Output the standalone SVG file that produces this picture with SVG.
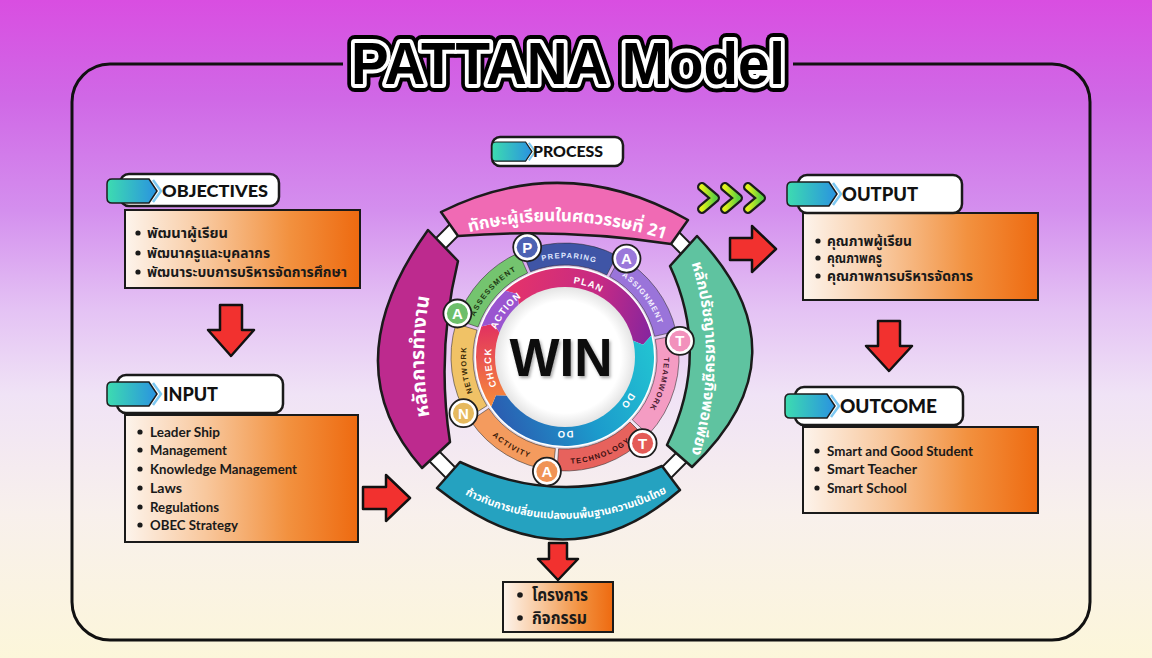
<svg xmlns="http://www.w3.org/2000/svg" width="1152" height="658" viewBox="0 0 1152 658">
<defs>
  <linearGradient id="bg" x1="0" y1="0" x2="0" y2="1">
    <stop offset="0" stop-color="#d94ee1"/>
    <stop offset="0.15" stop-color="#d068e6"/>
    <stop offset="0.32" stop-color="#d48fee"/>
    <stop offset="0.47" stop-color="#e4c2f4"/>
    <stop offset="0.6" stop-color="#f0e3f6"/>
    <stop offset="0.78" stop-color="#f8f0ec"/>
    <stop offset="1" stop-color="#fcf6da"/>
  </linearGradient>
  <linearGradient id="og" x1="0" y1="0" x2="1" y2="0">
    <stop offset="0" stop-color="#fdf4ec"/>
    <stop offset="0.35" stop-color="#f8c79c"/>
    <stop offset="0.7" stop-color="#f2913f"/>
    <stop offset="1" stop-color="#ee6a10"/>
  </linearGradient>
  <linearGradient id="chev" x1="0" y1="0" x2="1" y2="0">
    <stop offset="0" stop-color="#3ddcb0"/>
    <stop offset="1" stop-color="#2a92e0"/>
  </linearGradient>
  <linearGradient id="planG" gradientUnits="userSpaceOnUse" x1="505" y1="300" x2="651" y2="335">
    <stop offset="0" stop-color="#e5336a"/>
    <stop offset="0.6" stop-color="#c42a85"/>
    <stop offset="1" stop-color="#86259e"/>
  </linearGradient>
  <linearGradient id="doG" gradientUnits="userSpaceOnUse" x1="650" y1="340" x2="495" y2="405">
    <stop offset="0" stop-color="#22c3d2"/>
    <stop offset="0.5" stop-color="#1c9bcc"/>
    <stop offset="1" stop-color="#2a5fb2"/>
  </linearGradient>
  <linearGradient id="chkG" gradientUnits="userSpaceOnUse" x1="490" y1="405" x2="484" y2="327">
    <stop offset="0" stop-color="#f68a3a"/>
    <stop offset="1" stop-color="#e2335f"/>
  </linearGradient>
  <linearGradient id="limeG" x1="0" y1="0" x2="1" y2="0">
    <stop offset="0" stop-color="#e2f31c"/>
    <stop offset="1" stop-color="#5ccf40"/>
  </linearGradient>
  <radialGradient id="winG" cx="0.5" cy="0.5" r="0.5">
    <stop offset="0.8" stop-color="#ffffff"/>
    <stop offset="1" stop-color="#e4e4e4"/>
  </radialGradient>
  <filter id="sh" x="-20%" y="-20%" width="140%" height="140%">
    <feDropShadow dx="1.5" dy="2" stdDeviation="1.5" flood-color="#000" flood-opacity="0.35"/>
  </filter>
  <g id="chevShape">
    <path d="M5 0 L42 0 L50 12 L42 24 L5 24 Q0 24 0 19 L0 5 Q0 0 5 0 Z" fill="url(#chev)" stroke="#1c1c1c" stroke-width="1.5"/>
    <path d="M46 1 L54 12 L46 23" fill="none" stroke="#7cc8f2" stroke-width="2.5"/>
  </g>
  <path id="tp-pink" d="M456 236 Q565 203 678 244"/>
  <path id="tp-mag" d="M437 447 Q411 357 437 266"/>
  <path id="tp-green" d="M691 262 Q721 357 691 455"/>
  <path id="tp-teal" d="M458 491 Q565 548 674 489"/>
  <path id="t-prep" d="M527.91 265.21 A99 99 0 0 1 609.95 268.79"/>
  <path id="t-assign" d="M613.00 270.41 A99 99 0 0 1 661.47 334.72"/>
  <path id="t-team" d="M662.18 338.11 A99 99 0 0 1 637.41 424.52"/>
  <path id="t-tech" d="M557.53 463.74 A107 107 0 0 0 640.66 432.66"/>
  <path id="t-act" d="M476.30 416.83 A107 107 0 0 0 553.82 463.41"/>
  <path id="t-net" d="M481.05 409.46 A99 99 0 0 1 470.33 328.05"/>
  <path id="t-assess" d="M471.40 324.77 A99 99 0 0 1 524.74 266.56"/>
  <path id="t-plan" d="M552.15 284.12 A74 74 0 0 1 618.23 305.59"/>
  <path id="t-do1" d="M636.48 376.15 A74 74 0 0 1 607.45 417.62"/>
  <path id="t-do2" d="M590.31 426.54 A74 74 0 0 1 539.69 426.54"/>
  <path id="t-check" d="M502.94 397.30 A74 74 0 0 1 494.23 335.36"/>
  <path id="t-action" d="M493.86 336.61 A74 74 0 0 1 528.0 292.9"/>
</defs>
<style>
  .hdr { fill:#ffffff; stroke:#1a1a1a; stroke-width:2.5; }
  .box { fill:url(#og); stroke:#1a1a1a; stroke-width:2; }
  .ht { font-family:"Lato","Noto Sans",sans-serif; font-weight:900; fill:#111; }
  .en { font-family:"Lato","Noto Sans",sans-serif; font-weight:700; font-size:12.5px; fill:#1a1a1a; }
  .th { font-family:"Noto Sans Thai","Noto Sans Thai UI","Loma","Garuda","Noto Sans",sans-serif; font-weight:700; fill:#1a1a1a; }
  .bt { font-family:"Noto Sans Thai","Noto Sans Thai UI","Loma","Garuda","Noto Sans",sans-serif; font-weight:700; fill:#ffffff; }
  .dot { fill:#1a1a1a; }
  .band { stroke:#1b1b1b; stroke-width:2.5; stroke-linejoin:round; }
  .conn { fill:#ffffff; stroke:#1b1b1b; stroke-width:2; }
  .seg { stroke:#2a2a2a; stroke-opacity:0.55; stroke-width:1; }
  .rl { font-family:"Liberation Sans","Noto Sans",sans-serif; font-weight:700; font-size:7.5px; letter-spacing:1.2px; }
  .pl { font-family:"Liberation Sans","Noto Sans",sans-serif; font-weight:700; font-size:9.5px; letter-spacing:1px; fill:#ffffff; }
  .ico-o { fill:#ffffff; stroke:#1e1e1e; stroke-width:1.8; }
  .ico-t { font-family:"Liberation Sans","Noto Sans",sans-serif; font-weight:700; font-size:15px; fill:#ffffff; text-anchor:middle; }
  .arr { fill:#f2312f; stroke:#111111; stroke-width:2.5; stroke-linejoin:round; }
  .lime-o { fill:none; stroke:#1b1b1b; stroke-width:10; stroke-linecap:round; stroke-linejoin:round; }
  .lime-i { fill:none; stroke:url(#limeG); stroke-width:5.5; stroke-linecap:round; stroke-linejoin:round; }
</style>

<rect x="0" y="0" width="1152" height="658" fill="url(#bg)"/>

<g id="frame">
  <path d="M343 64 L110 64 A38 38 0 0 0 72 102 L72 602 A38 38 0 0 0 110 640 L1052 640 A38 38 0 0 0 1090 602 L1090 102 A38 38 0 0 0 1052 64 L793 64" fill="none" stroke="#111" stroke-width="3"/>
</g>

<g id="title" font-family="Liberation Sans, Arial, sans-serif" font-weight="700" font-size="60">
  <text x="351" y="84" textLength="434" lengthAdjust="spacingAndGlyphs" fill="#000" stroke="#000" stroke-width="16" stroke-linejoin="round">PATTANA Model</text>
  <text x="351" y="84" textLength="434" lengthAdjust="spacingAndGlyphs" fill="#000" stroke="#fff" stroke-width="8" stroke-linejoin="round">PATTANA Model</text>
  <text x="351" y="84" textLength="434" lengthAdjust="spacingAndGlyphs" fill="#000">PATTANA Model</text>
</g>

<g id="objectives">
  <rect class="box" x="125" y="210" width="235" height="78"/>
  <rect class="hdr" x="120" y="174" width="159" height="32" rx="9"/>
  <use href="#chevShape" x="107" y="179"/>
  <text class="ht" x="162" y="197" font-size="17" textLength="106" lengthAdjust="spacingAndGlyphs">OBJECTIVES</text>
  <circle class="dot" cx="138" cy="233" r="2.6"/>
  <circle class="dot" cx="138" cy="253" r="2.6"/>
  <circle class="dot" cx="138" cy="272" r="2.6"/>
  <text class="th" x="147" y="238" font-size="13.5" textLength="81" lengthAdjust="spacingAndGlyphs">พัฒนาผู้เรียน</text>
  <text class="th" x="147" y="258" font-size="13.5" textLength="123" lengthAdjust="spacingAndGlyphs">พัฒนาครูและบุคลากร</text>
  <text class="th" x="147" y="277" font-size="13.5" textLength="200" lengthAdjust="spacingAndGlyphs">พัฒนาระบบการบริหารจัดการศึกษา</text>
</g>

<g id="input">
  <rect class="box" x="125" y="415" width="233" height="127"/>
  <rect class="hdr" x="117" y="375" width="166" height="38" rx="9"/>
  <use href="#chevShape" x="107" y="382"/>
  <text class="ht" x="163" y="401" font-size="18" textLength="55" lengthAdjust="spacingAndGlyphs">INPUT</text>
  <circle class="dot" cx="140" cy="432" r="2.6"/>
  <circle class="dot" cx="140" cy="450" r="2.6"/>
  <circle class="dot" cx="140" cy="469" r="2.6"/>
  <circle class="dot" cx="140" cy="488" r="2.6"/>
  <circle class="dot" cx="140" cy="507" r="2.6"/>
  <circle class="dot" cx="140" cy="525" r="2.6"/>
  <text class="en" x="150" y="436.5" textLength="70" lengthAdjust="spacingAndGlyphs">Leader Ship</text>
  <text class="en" x="150" y="454.5" textLength="77" lengthAdjust="spacingAndGlyphs">Management</text>
  <text class="en" x="150" y="473.5" textLength="147" lengthAdjust="spacingAndGlyphs">Knowledge Management</text>
  <text class="en" x="150" y="492.5" textLength="32" lengthAdjust="spacingAndGlyphs">Laws</text>
  <text class="en" x="150" y="511.5" textLength="69" lengthAdjust="spacingAndGlyphs">Regulations</text>
  <text class="en" x="150" y="529.5" textLength="88" lengthAdjust="spacingAndGlyphs">OBEC Strategy</text>
</g>

<g id="output">
  <rect class="box" x="803" y="213" width="235" height="87"/>
  <rect class="hdr" x="798" y="175" width="164" height="38" rx="9"/>
  <use href="#chevShape" x="787" y="182"/>
  <text class="ht" x="842" y="201" font-size="18" textLength="76" lengthAdjust="spacingAndGlyphs">OUTPUT</text>
  <circle class="dot" cx="818" cy="241" r="2.6"/>
  <circle class="dot" cx="818" cy="258" r="2.6"/>
  <circle class="dot" cx="818" cy="276" r="2.6"/>
  <text class="th" x="827" y="246" font-size="13.5" textLength="85" lengthAdjust="spacingAndGlyphs">คุณภาพผู้เรียน</text>
  <text class="th" x="827" y="263" font-size="13.5" textLength="55" lengthAdjust="spacingAndGlyphs">คุณภาพครู</text>
  <text class="th" x="827" y="281" font-size="13.5" textLength="146" lengthAdjust="spacingAndGlyphs">คุณภาพการบริหารจัดการ</text>
</g>

<g id="outcome">
  <rect class="box" x="803" y="427" width="235" height="86"/>
  <rect class="hdr" x="795" y="387" width="168" height="38" rx="9"/>
  <use href="#chevShape" x="785" y="394"/>
  <text class="ht" x="840" y="413" font-size="18" textLength="97" lengthAdjust="spacingAndGlyphs">OUTCOME</text>
  <circle class="dot" cx="817" cy="451" r="2.6"/>
  <circle class="dot" cx="817" cy="469" r="2.6"/>
  <circle class="dot" cx="817" cy="488" r="2.6"/>
  <text class="en" x="827" y="455.5" textLength="146" lengthAdjust="spacingAndGlyphs">Smart and Good Student</text>
  <text class="en" x="827" y="473.5" textLength="90" lengthAdjust="spacingAndGlyphs">Smart Teacher</text>
  <text class="en" x="827" y="492.5" textLength="80" lengthAdjust="spacingAndGlyphs">Smart School</text>
</g>

<g id="projects">
  <rect class="box" x="503" y="582" width="110" height="50"/>
  <circle class="dot" cx="520" cy="595" r="2.8"/>
  <circle class="dot" cx="520" cy="618" r="2.8"/>
  <text class="th" x="532" y="601" font-size="17" textLength="56" lengthAdjust="spacingAndGlyphs">โครงการ</text>
  <text class="th" x="532" y="624" font-size="17" textLength="55" lengthAdjust="spacingAndGlyphs">กิจกรรม</text>
</g>

<g id="process-header">
  <rect class="hdr" x="492" y="137" width="131" height="29" rx="8"/>
  <use href="#chevShape" transform="translate(492 142) scale(0.8)"/>
  <text class="ht" x="533" y="157" font-size="15" textLength="70" lengthAdjust="spacingAndGlyphs">PROCESS</text>
</g>

<g id="outer-ring">
  <rect class="conn" x="-15" y="-7" width="30" height="14" transform="translate(448 236) rotate(-45)"/>
  <rect class="conn" x="-15" y="-7" width="30" height="14" transform="translate(678 241) rotate(45)"/>
  <rect class="conn" x="-15" y="-7" width="30" height="14" transform="translate(443 465) rotate(45)"/>
  <rect class="conn" x="-15" y="-7" width="30" height="14" transform="translate(673 466) rotate(-45)"/>
  <g id="band-top">
    <path class="band" fill="#f06ab4" d="M441 212 Q565 150 688 220 L671 244 Q565 228 458 236 Z"/>
    <text class="bt" font-size="17"><textPath href="#tp-pink" startOffset="50%" text-anchor="middle">ทักษะผู้เรียนในศตวรรษที่ 21</textPath></text>
  </g>
  <g id="band-left">
    <path class="band" fill="#bd2a8e" d="M428 230 Q331 365 422 468 L450 442 Q436 352 458 261 Z"/>
    <text class="bt" font-size="19.5"><textPath href="#tp-mag" startOffset="50%" text-anchor="middle">หลักการทำงาน</textPath></text>
  </g>
  <g id="band-right">
    <path class="band" fill="#5fc3a0" d="M697 236 Q810 355 692 467 L667 445 Q711 355 670 266 Z"/>
    <text class="bt" font-size="15.5"><textPath href="#tp-green" startOffset="50%" text-anchor="middle">หลักปรัชญาเศรษฐกิจพอเพียง</textPath></text>
  </g>
  <g id="band-bottom">
    <path class="band" fill="#25a2c0" d="M437 488 Q565 590 680 490 L662 466 Q563 510 460 462 Z"/>
    <text class="bt" font-size="10.8"><textPath href="#tp-teal" startOffset="50%" text-anchor="middle">ก้าวทันการเปลี่ยนแปลงบนพื้นฐานความเป็นไทย</textPath></text>
  </g>
</g>

<g id="pattana-ring">
  <circle cx="565" cy="357" r="91" fill="#ffffff" stroke="#d8d0e0" stroke-width="1"/>
  <g id="seg-preparing">
    <path class="seg" fill="#3f55a6" d="M522.30 251.30 A114 114 0 0 1 616.76 255.43 L606.77 275.03 A92 92 0 0 0 530.54 271.70 Z"/>
    <text class="rl" fill="#dfe6ff"><textPath href="#t-prep" startOffset="50%" text-anchor="middle">PREPARING</textPath></text>
  </g>
  <g id="seg-assignment">
    <path class="seg" fill="#9a74da" d="M620.27 257.30 A114 114 0 0 1 676.08 331.35 L654.64 336.30 A92 92 0 0 0 609.60 276.54 Z"/>
    <text class="rl" fill="#f4efff"><textPath href="#t-assign" startOffset="50%" text-anchor="middle">ASSIGNMENT</textPath></text>
  </g>
  <g id="seg-teamwork">
    <path class="seg" fill="#f49cc3" d="M676.90 335.25 A114 114 0 0 1 648.38 434.75 L632.29 419.74 A92 92 0 0 0 655.31 339.45 Z"/>
    <text class="rl" fill="#4a1a30" letter-spacing="3"><textPath href="#t-team" startOffset="50%" text-anchor="middle">TEAMWORK</textPath></text>
  </g>
  <g id="seg-technology">
    <path class="seg" fill="#e7625d" d="M645.61 437.61 A114 114 0 0 1 557.04 470.73 L558.58 448.78 A92 92 0 0 0 630.05 422.05 Z"/>
    <text class="rl" fill="#3a1010"><textPath href="#t-tech" startOffset="50%" text-anchor="middle">TECHNOLOGY</textPath></text>
  </g>
  <g id="seg-activity">
    <path class="seg" fill="#f49b5e" d="M553.09 470.37 A114 114 0 0 1 470.49 420.75 L488.73 408.45 A92 92 0 0 0 555.39 448.49 Z"/>
    <text class="rl" fill="#3a1a08" font-size="9"><textPath href="#t-act" startOffset="50%" text-anchor="middle">ACTIVITY</textPath></text>
  </g>
  <g id="seg-network">
    <path class="seg" fill="#f0c266" d="M468.33 417.41 A114 114 0 0 1 455.98 323.67 L477.02 330.10 A92 92 0 0 0 486.98 405.75 Z"/>
    <text class="rl" fill="#3a2a08"><textPath href="#t-net" startOffset="50%" text-anchor="middle">NETWORK</textPath></text>
  </g>
  <g id="seg-assessment">
    <path class="seg" fill="#74c46f" d="M457.21 319.88 A114 114 0 0 1 518.64 252.86 L527.58 272.96 A92 92 0 0 0 478.01 327.04 Z"/>
    <text class="rl" fill="#1d3a12"><textPath href="#t-assess" startOffset="50%" text-anchor="middle">ASSESSMENT</textPath></text>
  </g>
</g>

<g id="pdca-ring">
  <path fill="url(#planG)" d="M505.45 290.86 A89 89 0 0 1 651.36 335.47 L643.03 344.64 L631.95 340.31 A69 69 0 0 0 518.83 305.73 L517.46 293.91 Z"/>
  <path fill="url(#doG)" d="M651.36 335.47 A89 89 0 0 1 491.22 406.77 L495.91 395.30 L507.80 395.58 A69 69 0 0 0 631.95 340.31 L643.03 344.64 Z"/>
  <path fill="url(#chkG)" d="M491.22 406.77 A89 89 0 0 1 481.37 326.56 L493.40 323.61 L500.16 333.40 A69 69 0 0 0 507.80 395.58 L495.91 395.30 Z"/>
  <path fill="#9a55d0" d="M481.37 326.56 A89 89 0 0 1 505.45 290.86 L517.46 293.91 L518.83 305.73 A69 69 0 0 0 500.16 333.40 L493.40 323.61 Z"/>
  <text class="pl"><textPath href="#t-plan" startOffset="50%" text-anchor="middle">PLAN</textPath></text>
  <text class="pl"><textPath href="#t-do1" startOffset="50%" text-anchor="middle">DO</textPath></text>
  <text class="pl"><textPath href="#t-do2" startOffset="50%" text-anchor="middle">DO</textPath></text>
  <text class="pl"><textPath href="#t-check" startOffset="50%" text-anchor="middle">CHECK</textPath></text>
  <text class="pl"><textPath href="#t-action" startOffset="50%" text-anchor="middle">ACTION</textPath></text>
</g>

<g id="win">
  <circle cx="565" cy="357" r="70" fill="url(#winG)"/>
  <text x="561" y="376" font-family="Liberation Sans, Arial, sans-serif" font-weight="700" font-size="53" fill="#0d0d0d" text-anchor="middle" filter="url(#sh)">WIN</text>
</g>

<g id="icons">
  <g id="icon-p"><circle class="ico-o" cx="527.2" cy="247.3" r="14"/><circle cx="527.2" cy="247.3" r="10.5" fill="#4d62b3"/><text class="ico-t" x="527.2" y="252.6">P</text></g>
  <g id="icon-a1"><circle class="ico-o" cx="626.5" cy="258.6" r="14"/><circle cx="626.5" cy="258.6" r="10.5" fill="#9a78da"/><text class="ico-t" x="626.5" y="263.9">A</text></g>
  <g id="icon-t1"><circle class="ico-o" cx="679.9" cy="340.9" r="14"/><circle cx="679.9" cy="340.9" r="10.5" fill="#f291bc"/><text class="ico-t" x="679.9" y="346.2">T</text></g>
  <g id="icon-t2"><circle class="ico-o" cx="642.6" cy="443.2" r="14"/><circle cx="642.6" cy="443.2" r="10.5" fill="#e45b57"/><text class="ico-t" x="642.6" y="448.5">T</text></g>
  <g id="icon-a2"><circle class="ico-o" cx="546.9" cy="471.6" r="14"/><circle cx="546.9" cy="471.6" r="10.5" fill="#f09355"/><text class="ico-t" x="546.9" y="476.9">A</text></g>
  <g id="icon-n"><circle class="ico-o" cx="463.5" cy="413.2" r="14"/><circle cx="463.5" cy="413.2" r="10.5" fill="#e6b95e"/><text class="ico-t" x="463.5" y="418.5">N</text></g>
  <g id="icon-a3"><circle class="ico-o" cx="457.4" cy="313.5" r="14"/><circle cx="457.4" cy="313.5" r="10.5" fill="#6dbf6a"/><text class="ico-t" x="457.4" y="318.8">A</text></g>
</g>

<g id="connectors">
  <path class="arr" d="M220 305 L242 305 L242 330 L254 330 L231 356 L208 330 L220 330 Z"/>
  <path class="arr" d="M878 321 L900 321 L900 346 L912 346 L889 371 L866 346 L878 346 Z"/>
  <path class="arr" d="M363 487 L386 487 L386 475 L410 498 L386 521 L386 509 L363 509 Z"/>
  <path class="arr" d="M730 238 L752 238 L752 226 L776 249 L752 272 L752 260 L730 260 Z"/>
  <path class="arr" d="M549 543 L567 543 L567 559 L578 559 L558 580 L538 559 L549 559 Z"/>
  <g id="chevrons">
    <path class="lime-o" d="M702 187 L715 198 L702 209"/>
    <path class="lime-o" d="M725 187 L738 198 L725 209"/>
    <path class="lime-o" d="M748 187 L761 198 L748 209"/>
    <path class="lime-i" d="M702 187 L715 198 L702 209"/>
    <path class="lime-i" d="M725 187 L738 198 L725 209"/>
    <path class="lime-i" d="M748 187 L761 198 L748 209"/>
  </g>
</g>
</svg>
